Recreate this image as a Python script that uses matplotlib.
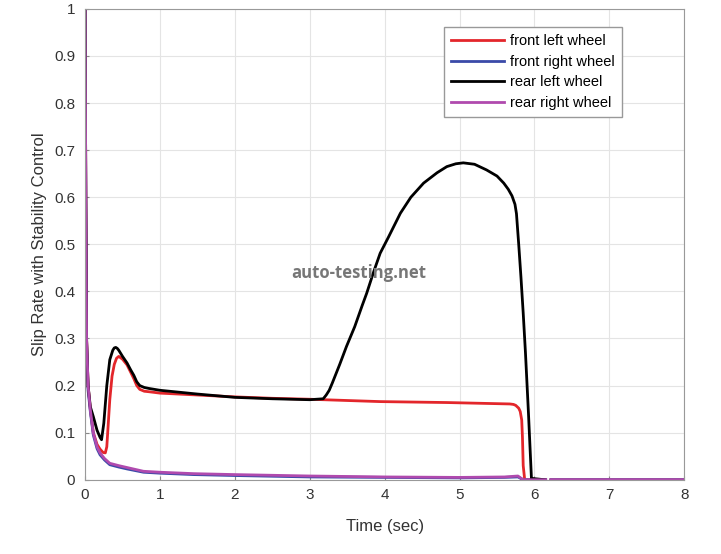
import numpy as np
import matplotlib
matplotlib.use("Agg")
import matplotlib.pyplot as plt

plt.rcParams["font.family"] = ["Liberation Sans", "DejaVu Sans"]

nan = np.nan

# front left wheel (red)
t_fl = [0, 0.01, 0.02, 0.04, 0.07, 0.11, 0.16, 0.2, 0.24, 0.27, 0.29, 0.31, 0.33, 0.36, 0.39, 0.42, 0.45,
        0.5, 0.56, 0.61, 0.65, 0.69, 0.73, 0.79, 0.85, 1.0, 1.5, 2.0, 2.5, 3.0, 3.18, 3.94, 4.83, 5.67, 5.72, 5.75,
        5.79, 5.81, 5.83, 5.84, 5.85, 5.87, 6.15, 6.18, 6.22, 8]
s_fl = [1, 0.6, 0.3, 0.2, 0.15, 0.1, 0.075, 0.065, 0.058, 0.057, 0.07, 0.12, 0.17, 0.22, 0.245, 0.258, 0.262,
        0.256, 0.244, 0.228, 0.215, 0.2, 0.192, 0.188, 0.187, 0.184, 0.18, 0.176, 0.173, 0.171, 0.170, 0.166, 0.164, 0.161, 0.16, 0.158,
        0.152, 0.145, 0.127, 0.09, 0.03, 0.0, 0.0, nan, 0.0, 0.0]

# front right wheel (blue)
t_fr = [0, 0.01, 0.02, 0.04, 0.07, 0.11, 0.16, 0.2, 0.26, 0.33, 0.45, 0.56, 0.78, 1.0, 1.45,
        2.0, 3.0, 4.0, 5.0, 5.6, 5.78, 5.85, 6.15, 6.18, 6.22, 8]
s_fr = [1, 0.58, 0.29, 0.19, 0.145, 0.095, 0.066, 0.053, 0.042, 0.032, 0.027, 0.023, 0.016, 0.014, 0.011,
        0.009, 0.006, 0.005, 0.004, 0.005, 0.006, 0.0, 0.0, nan, 0.0, 0.0]

# rear left wheel (black)
t_rl = [0, 0.01, 0.02, 0.04, 0.07, 0.11, 0.16, 0.2, 0.22, 0.25, 0.29, 0.33, 0.37, 0.39, 0.41, 0.43, 0.45,
        0.5, 0.56, 0.61, 0.65, 0.69, 0.73, 0.79, 0.85, 1.0, 1.5, 2.0, 2.5, 3.0, 3.18, 3.22, 3.26, 3.3, 3.35,
        3.4, 3.49, 3.6, 3.7, 3.76, 3.85, 3.94, 4.05, 4.21, 4.35, 4.52, 4.7, 4.83, 4.95, 5.05, 5.2,
        5.36, 5.5, 5.59, 5.65, 5.7, 5.72, 5.74, 5.76, 5.79, 5.82, 5.85, 5.88, 5.92, 5.96, 6.14]
s_rl = [1, 0.6, 0.3, 0.2, 0.155, 0.134, 0.105, 0.09, 0.085, 0.12, 0.2, 0.255, 0.275, 0.28, 0.281, 0.279, 0.275,
        0.262, 0.248, 0.233, 0.222, 0.208, 0.2, 0.196, 0.194, 0.19, 0.182, 0.175, 0.172, 0.170, 0.172, 0.18, 0.19, 0.205, 0.225,
        0.245, 0.283, 0.325, 0.37, 0.396, 0.44, 0.481, 0.515, 0.566, 0.6, 0.630, 0.652, 0.665, 0.671, 0.673, 0.67,
        0.658, 0.645, 0.630, 0.617, 0.603, 0.594, 0.585, 0.565, 0.5, 0.43, 0.354, 0.27, 0.142, 0.003, 0.0]

# rear right wheel (magenta)
t_rr = [0, 0.01, 0.02, 0.04, 0.07, 0.11, 0.16, 0.2, 0.26, 0.33, 0.45, 0.56, 0.78, 1.0, 1.45,
        2.0, 3.0, 4.0, 5.0, 5.6, 5.78, 5.85, 6.15, 6.18, 6.22, 8]
s_rr = [1, 0.6, 0.3, 0.2, 0.149, 0.099, 0.07, 0.057, 0.045, 0.035, 0.03, 0.026, 0.018, 0.016, 0.013,
        0.011, 0.008, 0.006, 0.005, 0.006, 0.008, 0.0, 0.0, nan, 0.0, 0.0]

fig = plt.figure(figsize=(7.21, 5.54), dpi=100)
ax = fig.add_axes([0.118, 0.134, 0.831, 0.850])

ax.plot(t_fl, s_fl, color="#e3262b", linewidth=2, label="front left wheel")
ax.plot(t_fr, s_fr, color="#3a4aa8", linewidth=2, label="front right wheel")
ax.plot(t_rl, s_rl, color="black", linewidth=2, label="rear left wheel")
ax.plot(t_rr, s_rr, color="#b04aae", linewidth=2, label="rear right wheel")

ax.set_xlim(0, 8)
ax.set_ylim(0, 1)
ax.set_xticks(range(0, 9))
ax.set_yticks(np.arange(0, 1.01, 0.1))
ax.set_yticklabels(["0", "0.1", "0.2", "0.3", "0.4", "0.5", "0.6", "0.7", "0.8", "0.9", "1"])
ax.grid(True, color="#e4e4e4", linewidth=0.8)
ax.tick_params(direction="in", length=3, colors="#888888", labelcolor="#333333", labelsize=11)
ax.tick_params(axis="y", pad=7)
ax.tick_params(axis="x", pad=6)
for sp in ax.spines.values():
    sp.set_color("#999999")

ax.set_xlabel("Time (sec)", fontsize=12, color="#333333", labelpad=12)
ax.set_ylabel("Slip Rate with Stability Control", fontsize=12, color="#333333", labelpad=5)

leg = ax.legend(loc="upper right", bbox_to_anchor=(0.908, 0.977), fontsize=10.5,
                fancybox=False, framealpha=1, edgecolor="#999999",
                handlelength=3.6, handletextpad=0.4, borderpad=0.5, labelspacing=0.45)

fig.text(0.497, 0.508, "auto-testing.net", fontsize=12, fontweight="bold",
         color="#777777", ha="center", va="center", family=["Open Sans", "DejaVu Sans"])

fig.savefig("out.png", dpi=100)
